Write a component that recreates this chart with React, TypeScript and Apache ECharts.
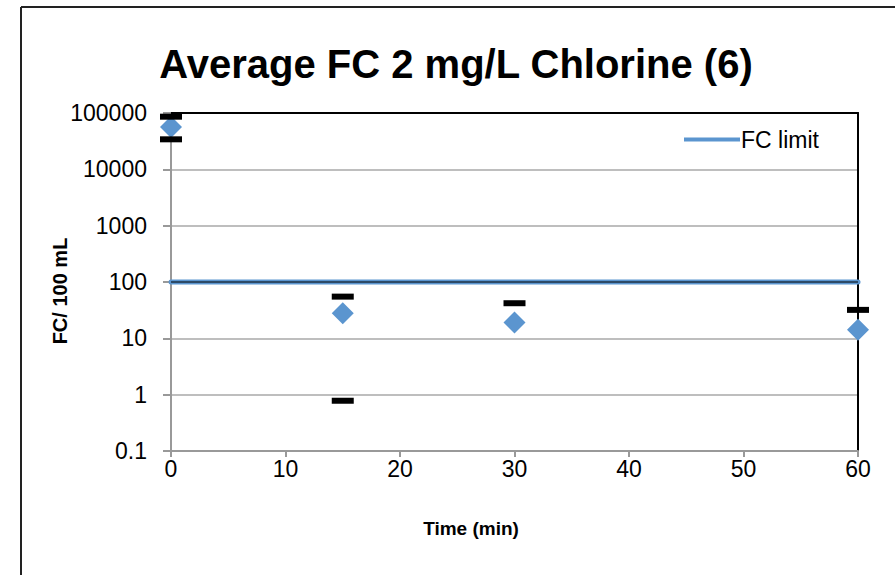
import React, { useEffect, useRef } from "react";
import * as echarts from "echarts";

const times = [0, 15, 30, 60];
const avgFC = [56500, 28, 19.1, 14.2];
const upperBar = [86000, 55, 42, 32];
const lowerBar: (number | null)[] = [34100, 0.78, null, null];
const fcLimit = 100;
const xRange = [0, 60];
const yRange = [0.1, 100000];
const titleText = "Average FC 2 mg/L Chlorine (6)";
const xTitle = "Time (min)";
const yTitle = "FC/ 100 mL";
const limitName = "FC limit";

const FONT = "'Liberation Sans', Arial, sans-serif";
const BLUE = "#5B95CF";

export default function App() {
  const ref = useRef<HTMLDivElement>(null);
  useEffect(() => {
    if (!ref.current) return;
    const chart = echarts.init(ref.current, null, { renderer: "svg" });
    const upperData = times.map((t, i) => [t, upperBar[i]]).filter((d) => d[1] != null);
    const lowerData = times.map((t, i) => [t, lowerBar[i]]).filter((d) => d[1] != null);
    chart.setOption({
      animation: false,
      backgroundColor: "#fff",
      textStyle: { fontFamily: FONT },
      grid: { left: 171, right: 37, top: 113, bottom: 124 },
      legend: {
        data: [{ name: limitName, icon: "rect" }],
        left: 679,
        top: 123,
        itemWidth: 56,
        itemHeight: 4,
        textStyle: { fontSize: 23, color: "#000", fontFamily: FONT, padding: [0, 0, 0, -4] },
      },
      graphic: [
        { type: "line", shape: { x1: 21, y1: 7, x2: 900, y2: 7 }, style: { stroke: "#222", lineWidth: 2 } },
        { type: "line", shape: { x1: 21, y1: 7, x2: 21, y2: 580 }, style: { stroke: "#222", lineWidth: 2 } },
        {
          type: "text",
          x: 456,
          y: 64,
          style: { text: titleText, font: `bold 40px ${FONT}`, fill: "#000", textAlign: "center", textVerticalAlign: "middle" },
        },
        {
          type: "text",
          x: 471,
          y: 528,
          style: { text: xTitle, font: `bold 19px ${FONT}`, fill: "#000", textAlign: "center", textVerticalAlign: "middle" },
        },
        {
          type: "text",
          x: 60,
          y: 291,
          rotation: Math.PI / 2,
          style: { text: yTitle, font: `bold 20px ${FONT}`, fill: "#000", textAlign: "center", textVerticalAlign: "middle" },
        },
      ],
      xAxis: [
        {
          type: "value",
          min: xRange[0],
          max: xRange[1],
          interval: 10,
          axisLine: { show: true, onZero: false, lineStyle: { color: "#999", width: 2 } },
          axisTick: { show: true, length: 6, lineStyle: { color: "#999", width: 2 } },
          axisLabel: { fontSize: 23, color: "#000", margin: 6, fontFamily: FONT },
          splitLine: { show: false },
        },
        {
          type: "value",
          position: "top",
          min: xRange[0],
          max: xRange[1],
          axisLine: { show: true, onZero: false, lineStyle: { color: "#000", width: 2 } },
          axisTick: { show: false },
          axisLabel: { show: false },
          splitLine: { show: false },
        },
      ],
      yAxis: [
        {
          type: "log",
          logBase: 10,
          min: yRange[0],
          max: yRange[1],
          axisLine: { show: true, onZero: false, lineStyle: { color: "#999", width: 2 } },
          axisTick: { show: true, length: 8, lineStyle: { color: "#999", width: 2 } },
          axisLabel: {
            fontSize: 23,
            color: "#000",
            margin: 24,
            fontFamily: FONT,
            formatter: (v: number) => (v < 1 ? v.toFixed(1) : String(Math.round(v))),
          },
          splitLine: { show: true, lineStyle: { color: "#A8A8A8", width: 1.5 } },
        },
        {
          type: "log",
          logBase: 10,
          position: "right",
          min: yRange[0],
          max: yRange[1],
          axisLine: { show: true, onZero: false, lineStyle: { color: "#000", width: 2 } },
          axisTick: { show: false },
          axisLabel: { show: false },
          splitLine: { show: false },
        },
      ],
      series: [
        {
          name: limitName,
          type: "line",
          data: [
            [xRange[0], fcLimit],
            [xRange[1], fcLimit],
          ],
          symbol: "none",
          lineStyle: { color: BLUE, width: 5, cap: "round" },
          itemStyle: { color: BLUE },
          z: 3,
        },
        {
          name: "limitCore",
          type: "line",
          data: [
            [xRange[0], fcLimit],
            [xRange[1], fcLimit],
          ],
          symbol: "none",
          lineStyle: { color: "#000", width: 1 },
          z: 4,
        },
        {
          name: "Average FC",
          type: "scatter",
          data: times.map((t, i) => [t, avgFC[i]]),
          symbol: "diamond",
          symbolSize: 22,
          itemStyle: { color: BLUE, opacity: 1 },
          clip: false,
          z: 5,
        },
        {
          name: "upper",
          type: "scatter",
          data: upperData,
          symbol: "rect",
          symbolSize: [22, 6],
          itemStyle: { color: "#000", opacity: 1 },
          clip: false,
          z: 6,
        },
        {
          name: "lower",
          type: "scatter",
          data: lowerData,
          symbol: "rect",
          symbolSize: [22, 6],
          itemStyle: { color: "#000", opacity: 1 },
          clip: false,
          z: 6,
        },
      ],
    });
    return () => chart.dispose();
  }, []);
  return <div ref={ref} style={{ position: "fixed", left: 0, top: 0, width: 895, height: 575 }} />;
}
